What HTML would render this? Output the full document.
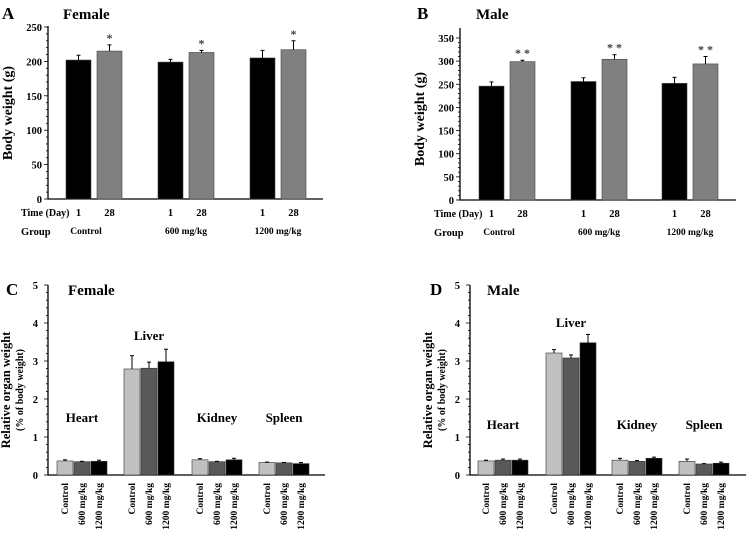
<!DOCTYPE html>
<html><head><meta charset="utf-8"><style>
body{margin:0;background:#fff;width:748px;height:531px;overflow:hidden}
svg,svg text{font-family:"Liberation Serif","DejaVu Serif",serif;font-weight:bold}
</style></head><body>
<svg id="s" width="748" height="531" xmlns="http://www.w3.org/2000/svg"></svg>
<script>
const groupsBW=["Control","600 mg/kg","1200 mg/kg"];
const femaleDay1=[202,199,205];
const femaleDay1Err=[7,4,11];
const femaleDay28=[215,213,217];
const femaleDay28Err=[9,3,13];
const maleDay1=[246,256,252];
const maleDay1Err=[9,8,13];
const maleDay28=[299,304,294];
const maleDay28Err=[3,10,16];
const femaleStars=["*","*","*"];
const maleStars=["* *","* *","* *"];
const organs=["Heart","Liver","Kidney","Spleen"];
const doses=["Control","600 mg/kg","1200 mg/kg"];
const femaleOrgan=[[0.37,0.35,0.36],[2.79,2.81,2.98],[0.40,0.35,0.40],[0.33,0.32,0.30]];
const femaleOrganErr=[[0.03,0.01,0.03],[0.35,0.16,0.33],[0.03,0.01,0.04],[0.01,0.01,0.03]];
const maleOrgan=[[0.37,0.39,0.39],[3.21,3.08,3.48],[0.39,0.36,0.44],[0.36,0.29,0.31]];
const maleOrganErr=[[0.02,0.03,0.03],[0.09,0.08,0.22],[0.05,0.02,0.03],[0.06,0.01,0.03]];
const bwTicksF=[0,50,100,150,200,250];
const bwTicksM=[0,50,100,150,200,250,300,350];
const organTicks=[0,1,2,3,4,5];

const NS="http://www.w3.org/2000/svg";
const svg=document.getElementById('s');
function el(tag,attrs,parent){const e=document.createElementNS(NS,tag);for(const k in attrs)e.setAttribute(k,attrs[k]);(parent||svg).appendChild(e);return e;}
function txt(x,y,t,size,anchor,parent,extra){const e=el('text',Object.assign({x:x,y:y,'font-size':size,'text-anchor':anchor||'middle'},extra||{}),parent);e.textContent=t;return e;}

function bwPanel(o){
  const g=el('g',{});
  
  
  const y=v=>o.y0-(v-0)/o.max*(o.y0-o.yTop);
  const ax=el('path',{d:`M${o.ax},${o.axTop}V${o.y0}H${o.axEnd}`,stroke:'#000','stroke-width':1.3,fill:'none'},g);
  
  const step=o.ticks[1]-o.ticks[0];
  for(let v=0;v<=o.max;v+=step/5){el('line',{x1:o.ax-(v%step===0?4:2),x2:o.ax,y1:y(v),y2:y(v),stroke:'#000','stroke-width':0.8},g);}
  o.ticks.forEach(t=>{const e=txt(o.ax-6,y(t)+4,String(t),10.5,'end',g);});
  const yl=txt(0,0,'Body weight (g)',14,'middle',g,{transform:`translate(${o.ax-36},${(o.y0+o.yTop)/2}) rotate(-90)`});
  
  const bw=25;
  o.gx.forEach((gx,i)=>{
    [[o.d1[i],o.e1[i],'#000',gx],[o.d28[i],o.e28[i],'#808080',gx+o.gap]].forEach(([v,er,c,x],j)=>{
      const r=el('rect',{x:x,y:y(v),width:bw,height:o.y0-y(v),fill:c,stroke:'#444','stroke-width':0.6},g);
      
      el('line',{x1:x+bw/2,x2:x+bw/2,y1:y(v),y2:y(v+er),stroke:'#000','stroke-width':1},g);
      el('line',{x1:x+bw/2-2,x2:x+bw/2+2,y1:y(v+er),y2:y(v+er),stroke:'#000','stroke-width':1},g);
      const d=txt(x+bw/2,o.y0+17,j?'28':'1',10.5,'middle',g);
    });
    const s=txt(gx+o.gap+bw/2,y(o.d28[i]+o.e28[i])-3,o.stars[i],12,'middle',g,{'font-weight':'normal',fill:'#444'});
    
    const gl=txt(gx+o.gap/2+bw/2+(i==0?-8:0),o.y0+35,groupsBW[i],9.5,'middle',g);
  });
  const t1=txt(o.lx,o.y0+17,'Time (Day)',10,'start',g);
  const t2=txt(o.lx,o.y0+36,'Group',10.5,'start',g);
  const L=txt(o.letterX,19,o.letter,17,'start',g);
  const T=txt(o.titleX,19,o.title,15,'start',g);
}

function organPanel(o){
  const g=el('g',{});
  
  
  const y=v=>o.y0-v/5*(o.y0-o.yTop);
  const ax=el('path',{d:`M${o.ax},${o.yTop}V${o.y0}H${o.axEnd}`,stroke:'#000','stroke-width':1.3,fill:'none'},g);
  
  for(let v=0;v<=5.001;v+=0.2){el('line',{x1:o.ax-(Math.abs(v-Math.round(v))<0.01?4:2),x2:o.ax,y1:y(v),y2:y(v),stroke:'#000','stroke-width':0.8},g);}
  organTicks.forEach(t=>{const e=txt(o.ax-10,y(t)+4,String(t),10.5,'end',g);});
  const yl=txt(0,0,'Relative organ weight',12.5,'middle',g,{transform:`translate(${o.ax-38},${(o.y0+o.yTop)/2+10}) rotate(-90)`});
  
  const yl2=txt(0,0,'(% of body weight)',10,'middle',g,{transform:`translate(${o.ax-25},${(o.y0+o.yTop)/2+10}) rotate(-90)`});
  
  const cols=['#c0c0c0','#595959','#000'];
  const bw=16;
  o.gx.forEach((gx,i)=>{
    o.vals[i].forEach((v,j)=>{
      const x=gx+j*17,er=o.errs[i][j];
      const r=el('rect',{x:x,y:y(v),width:bw,height:o.y0-y(v),fill:cols[j],stroke:'#333','stroke-width':0.6},g);
      
      el('line',{x1:x+bw/2,x2:x+bw/2,y1:y(v),y2:y(v+er),stroke:'#000','stroke-width':1},g);
      el('line',{x1:x+bw/2-2,x2:x+bw/2+2,y1:y(v+er),y2:y(v+er),stroke:'#000','stroke-width':1},g);
      const d=txt(0,0,doses[j],9.5,'end',g,{transform:`translate(${x+bw/2+3},${o.y0+8}) rotate(-90)`});
      
    });
    const ly=i==1?o.liverY:o.labY;
    const ol=txt(gx+25,ly,organs[i],13,'middle',g);
  });
  const L=txt(o.letterX,o.yTop+10,o.letter,17,'start',g);
  const T=txt(o.titleX,o.yTop+10,o.title,15,'start',g);
}

bwPanel({name:'panel-a-female-body-weight',ax:48,axTop:26,y0:199,yTop:27,max:250,axEnd:323,ticks:bwTicksF,gx:[66,158,250],gap:31,d1:femaleDay1,e1:femaleDay1Err,d28:femaleDay28,e28:femaleDay28Err,stars:femaleStars,lx:21,letter:'A',letterX:2,title:'Female',titleX:63});
bwPanel({name:'panel-b-male-body-weight',ax:460,axTop:28,y0:200,yTop:38,max:350,axEnd:736,ticks:bwTicksM,gx:[479,571,662],gap:31,d1:maleDay1,e1:maleDay1Err,d28:maleDay28,e28:maleDay28Err,stars:maleStars,lx:434,letter:'B',letterX:417,title:'Male',titleX:476});
organPanel({name:'panel-c-female-organ-weight',ax:48,y0:475,yTop:285,axEnd:325,gx:[57,124,192,259],vals:femaleOrgan,errs:femaleOrganErr,labY:422,liverY:340,letter:'C',letterX:6,title:'Female',titleX:68});
organPanel({name:'panel-d-male-organ-weight',ax:470,y0:475,yTop:285,axEnd:746,gx:[478,546,612,679],vals:maleOrgan,errs:maleOrganErr,labY:429,liverY:327,letter:'D',letterX:430,title:'Male',titleX:487});
</script>
</body></html>
